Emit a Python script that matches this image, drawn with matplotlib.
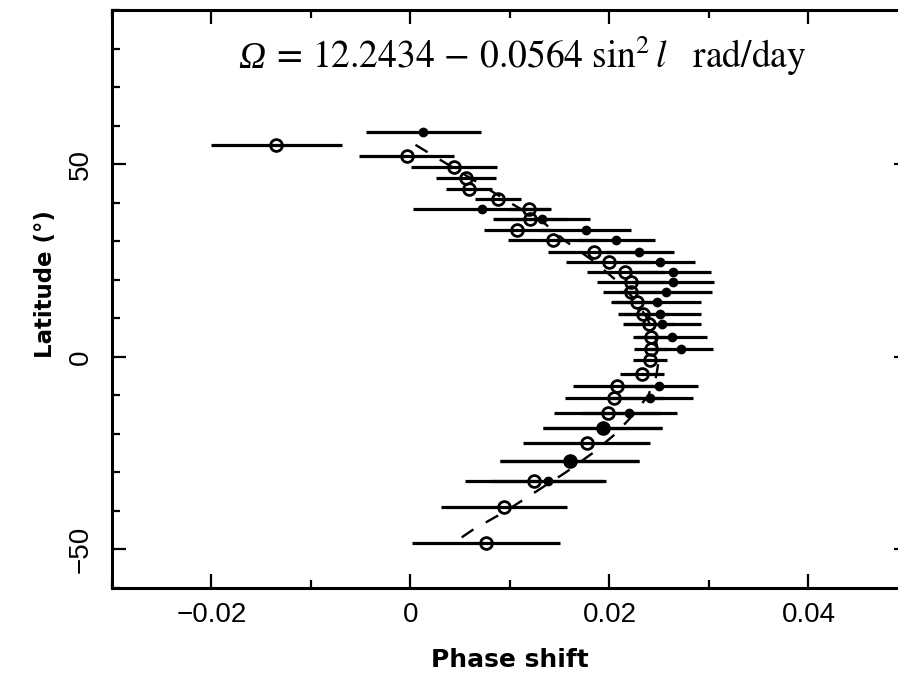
import matplotlib.pyplot as plt
import numpy as np

plt.rcParams['mathtext.fontset'] = 'stix'

# open circles: latitude, phase shift, error
lat_open = [55.0, 52.1, 49.2, 46.4, 43.5, 40.9, 38.3, 35.7, 32.8, 30.2, 27.3, 24.7,
            21.9, 19.3, 16.7, 14.1, 11.2, 8.6, 5.2, 2.1, -0.8, -4.4, -7.5, -10.6,
            -14.5, -18.4, -22.5, -27.0, -32.3, -39.0, -48.2]
x_open = [-0.0135, -0.0004, 0.0044, 0.0056, 0.0059, 0.0088, 0.0119, 0.0120, 0.0107,
          0.0143, 0.0184, 0.0199, 0.0216, 0.0222, 0.0222, 0.0228, 0.0234, 0.0240,
          0.0242, 0.0242, 0.0241, 0.0233, 0.0208, 0.0205, 0.0198, 0.0193, 0.0177,
          0.0160, 0.0124, 0.0094, 0.0076]
err_open = [0.0066, 0.0048, 0.0043, 0.0030, 0.0023, 0.0023, 0.0020, 0.0037, 0.0033,
            0.0045, 0.0046, 0.0043, 0.0039, 0.0035, 0.0029, 0.0026, 0.0025, 0.0025,
            0.0018, 0.0017, 0.0017, 0.0022, 0.0045, 0.0050, 0.0054, 0.0060, 0.0064,
            0.0070, 0.0069, 0.0063, 0.0074]

# filled dots
lat_fill = [58.3, 38.3, 35.7, 32.8, 30.2, 27.3, 24.7, 21.9, 19.3, 16.7, 14.1, 11.2,
            8.6, 5.2, 2.1, -7.5, -10.6, -14.5, -18.4, -27.0, -32.3]
x_fill = [0.0013, 0.0072, 0.0132, 0.0176, 0.0207, 0.0230, 0.0251, 0.0264, 0.0264,
          0.0257, 0.0248, 0.0251, 0.0253, 0.0263, 0.0272, 0.0250, 0.0241, 0.0220,
          0.0193, 0.0160, 0.0138]
err_fill = [0.0058, 0.0069, 0.0048, 0.0046, 0.0039, 0.0035, 0.0035, 0.0038, 0.0041,
            0.0046, 0.0044, 0.0041, 0.0039, 0.0035, 0.0032, 0.0039, 0.0043, 0.0048,
            0.0060, 0.0070, 0.0058]

# dashed fit curve
curve_lat = [55, 50, 45, 40, 35, 30, 25, 20, 15, 10, 5, 0, -5, -10, -15, -20, -25,
             -30, -35, -40, -45, -48]
curve_x = [0.0005, 0.0037, 0.0069, 0.0100, 0.0133, 0.0156, 0.0183, 0.0206, 0.0225,
           0.0238, 0.0246, 0.0250, 0.0247, 0.0239, 0.0224, 0.0206, 0.0183, 0.0156,
           0.0126, 0.0096, 0.0062, 0.0045]

fig = plt.figure(figsize=(8.98, 6.91), dpi=100)
ax = fig.add_axes([112/898, 1-588/691, (908-112)/898, (588-10)/691])

ax.errorbar(x_open, lat_open, xerr=err_open, fmt='none', ecolor='k', elinewidth=2.3)
ax.errorbar(x_fill, lat_fill, xerr=err_fill, fmt='none', ecolor='k', elinewidth=2.3)
ax.plot(curve_x, curve_lat, color='k', lw=1.7, linestyle=(0, (6, 6)))
ax.plot(x_fill, lat_fill, 'o', color='k', ms=6)
ax.plot(x_open, lat_open, 'o', mfc='none', mec='k', ms=8.5, mew=2)

ax.set_xlim(-0.03, 0.05)
ax.set_ylim(-60, 90)
ax.set_xticks([-0.02, 0, 0.02, 0.04])
ax.set_xticklabels(['\u22120.02', '0', '0.02', '0.04'])
ax.set_xticks(np.arange(-0.03, 0.051, 0.01), minor=True)
ax.set_yticks([-50, 0, 50])
ax.set_yticklabels(['\u221250', '0', '50'], rotation=90, va='center')
ax.set_yticks(np.arange(-60, 91, 10), minor=True)

ax.tick_params(which='both', direction='in', top=True, right=True, width=1.6,
               labelsize=20, labelfontfamily='Liberation Sans')
ax.tick_params(which='major', length=10)
ax.tick_params(axis='x', which='major', pad=10)
ax.tick_params(axis='y', which='major', pad=13)
ax.tick_params(which='minor', length=5.5)
for s in ax.spines.values():
    s.set_linewidth(2.2)

ax.set_xlabel('Phase shift', fontsize=18, fontweight='bold', va='top')
ax.xaxis.set_label_coords(0.5, -0.104)
ax.set_ylabel('Latitude (\u00b0)', fontsize=16.5, fontweight='bold')
ax.yaxis.set_label_coords(-0.069, 0.526)

# equation: italic Omega drawn separately, rest in mathtext
eq_x, eq_y = -0.0140, 75
ax.text(eq_x, eq_y, r'$=\,12.2434\, -\, 0.0564\ \sin^2 \mathit{l}\quad \mathrm{rad/day}$',
        fontsize=27, ha='left', va='baseline')
ax.annotate('\u03a9', xy=(eq_x, eq_y), xytext=(-4, 0), textcoords='offset points',
            fontsize=27, family='Liberation Serif', style='italic',
            ha='right', va='baseline')

fig.savefig('out.png', dpi=100)
